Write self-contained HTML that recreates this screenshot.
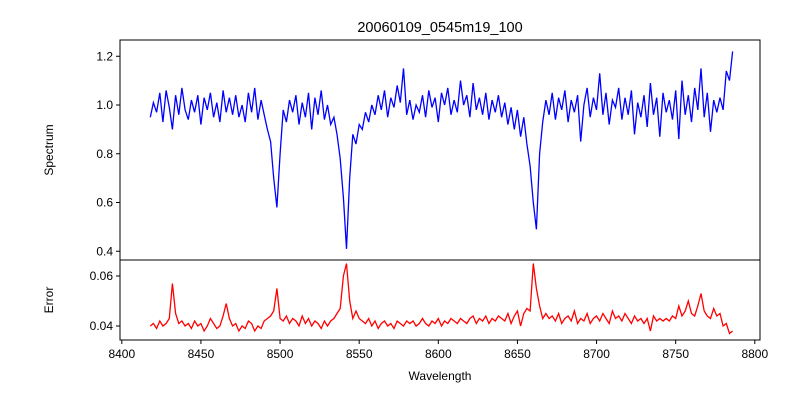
<!DOCTYPE html>
<html><head><meta charset="utf-8"><style>
body{margin:0;background:#fff;}
svg{display:block;font-family:"Liberation Sans","DejaVu Sans",sans-serif;}
</style></head><body>
<svg id="chart" width="800" height="400"></svg>
<script>
const wlStart = 8418, wlStep = 2;
const spectrum = [0.95,1.01,0.97,1.05,0.93,1.06,0.99,0.90,1.04,0.96,1.07,0.98,
0.94,1.02,0.97,1.04,0.92,1.03,0.98,1.05,0.95,1.01,0.93,1.06,0.97,1.03,0.96,
1.04,0.95,1.00,0.93,1.05,0.97,1.07,0.94,1.02,0.96,
0.90,0.85,0.70,0.58,0.80,0.98,0.93,1.02,
0.97,1.04,0.92,1.01,0.95,1.05,0.90,1.03,0.96,1.06,0.94,1.00,
0.92,0.95,0.88,0.78,0.62,0.41,0.70,0.88,0.84,0.92,0.90,
0.97,0.93,1.00,0.96,1.04,0.98,1.06,0.95,1.03,0.99,1.08,1.01,1.15,0.96,
1.02,0.94,1.00,0.97,1.04,0.95,1.06,0.99,1.03,0.93,1.05,1.00,1.07,0.96,1.02,
0.97,1.10,1.00,1.04,0.95,1.09,0.98,1.03,0.96,1.05,0.94,1.02,0.97,1.04,0.95,
1.01,0.92,0.99,0.90,0.98,0.87,0.95,0.84,
0.75,0.60,0.49,0.80,0.93,1.02,
0.96,1.05,0.94,1.03,0.98,1.06,0.93,1.02,0.97,1.04,0.85,1.00,1.07,0.95,1.03,0.98,
1.13,0.96,1.05,0.92,1.02,0.99,1.07,0.94,1.03,0.96,1.06,0.88,1.01,0.95,1.04,
0.91,1.09,0.96,1.03,0.87,1.05,0.97,1.02,0.94,1.06,0.86,1.10,0.96,1.04,0.93,
1.07,0.98,1.15,0.95,1.05,0.89,1.02,0.97,1.03,0.98,1.14,1.10,1.22];
const errorVals = [0.040,0.041,0.039,0.042,0.040,0.041,0.043,0.057,0.045,0.041,0.042,0.040,
0.041,0.039,0.042,0.040,0.041,0.038,0.040,0.043,0.041,0.039,0.040,0.044,0.049,0.043,0.040,
0.041,0.038,0.040,0.039,0.042,0.041,0.038,0.040,0.039,0.042,
0.043,0.044,0.046,0.055,0.043,0.042,0.044,0.041,
0.043,0.042,0.040,0.044,0.041,0.043,0.040,0.042,0.041,0.039,0.042,0.040,
0.042,0.043,0.045,0.047,0.060,0.065,0.050,0.043,0.046,0.043,0.042,
0.041,0.043,0.040,0.042,0.039,0.041,0.042,0.040,0.041,0.039,0.042,0.041,0.040,0.042,
0.041,0.042,0.040,0.041,0.043,0.041,0.040,0.042,0.041,0.043,0.040,0.042,0.041,0.043,0.042,
0.041,0.043,0.042,0.041,0.043,0.044,0.041,0.043,0.042,0.044,0.041,0.043,0.042,0.044,0.043,
0.042,0.045,0.041,0.044,0.046,0.040,0.045,0.047,
0.046,0.065,0.055,0.048,0.043,0.045,
0.043,0.044,0.042,0.045,0.041,0.043,0.044,0.042,0.046,0.041,0.043,0.042,0.045,0.041,0.043,0.044,
0.042,0.045,0.043,0.041,0.046,0.043,0.044,0.042,0.045,0.043,0.041,0.044,0.042,0.043,0.041,
0.043,0.038,0.044,0.042,0.043,0.042,0.043,0.042,0.044,0.043,0.048,0.044,0.046,0.050,0.045,
0.044,0.048,0.053,0.046,0.044,0.043,0.047,0.044,0.045,0.040,0.041,0.037,0.038];
const xTicks = [8400,8450,8500,8550,8600,8650,8700,8750,8800];
const specTicks = [0.4,0.6,0.8,1.0,1.2];
const errTicks = [0.04,0.06];

const NS = "http://www.w3.org/2000/svg";
const svg = document.getElementById('chart');
const L = 120, R = 760, T1 = 40, B1 = 260, T2 = 260, B2 = 340;
const xS = w => 121.8 + (w - 8400) * 1.5825;
const yS = v => 105 - (v - 1.0) * 243.75;
const yE = v => 326 - (v - 0.04) * 2500;
function el(tag, attrs, txt){const e=document.createElementNS(NS,tag);for(const k in attrs)e.setAttribute(k,attrs[k]);if(txt!==undefined)e.textContent=txt;svg.appendChild(e);return e;}

const cp = document.createElementNS(NS,'defs');
cp.innerHTML = '<clipPath id="c1"><rect x="120" y="40" width="640" height="220"/></clipPath><clipPath id="c2"><rect x="120" y="260" width="640" height="80"/></clipPath>';
svg.appendChild(cp);

let d = spectrum.map((v,i)=>(i?'L':'M')+xS(wlStart+i*wlStep).toFixed(1)+','+yS(v).toFixed(1)).join('');
const sp = el('path',{d:d,fill:'none',stroke:'#0000ff','stroke-width':1.3,'clip-path':'url(#c1)'});


d = errorVals.map((v,i)=>(i?'L':'M')+xS(wlStart+i*wlStep).toFixed(1)+','+yE(v).toFixed(1)).join('');
const ep = el('path',{d:d,fill:'none',stroke:'#ff0000','stroke-width':1.3,'clip-path':'url(#c2)'});



const f1 = el('rect',{x:L,y:T1,width:R-L,height:B1-T1,fill:'none',stroke:'#000','stroke-width':1});


const f2 = el('rect',{x:L,y:T2,width:R-L,height:B2-T2,fill:'none',stroke:'#000','stroke-width':1});



xTicks.forEach(t=>{const x=xS(t);el('line',{x1:x,x2:x,y1:B2,y2:B2+4,stroke:'#000'});
 const tx=el('text',{x:x,y:B2+18,'font-size':12,'text-anchor':'middle'},String(t));
 
 });
specTicks.forEach(t=>{const y=yS(t);el('line',{x1:L-4,x2:L,y1:y,y2:y,stroke:'#000'});
 const tx=el('text',{x:L-7,y:y+4,'font-size':12,'text-anchor':'end'},t.toFixed(1));
 
 });
errTicks.forEach(t=>{const y=yE(t);el('line',{x1:L-4,x2:L,y1:y,y2:y,stroke:'#000'});
 const tx=el('text',{x:L-7,y:y+4,'font-size':12,'text-anchor':'end'},t.toFixed(2));
 
 });

const ti=el('text',{x:440,y:32,'font-size':14.5,'text-anchor':'middle'},'20060109_0545m19_100');


const xl=el('text',{x:440,y:380,'font-size':12,'text-anchor':'middle'},'Wavelength');


const yl1=el('text',{x:0,y:0,'font-size':12,'text-anchor':'middle',transform:'translate(53,150) rotate(-90)'},'Spectrum');


const yl2=el('text',{x:0,y:0,'font-size':12,'text-anchor':'middle',transform:'translate(53,300) rotate(-90)'},'Error');


</script>
</body></html>
